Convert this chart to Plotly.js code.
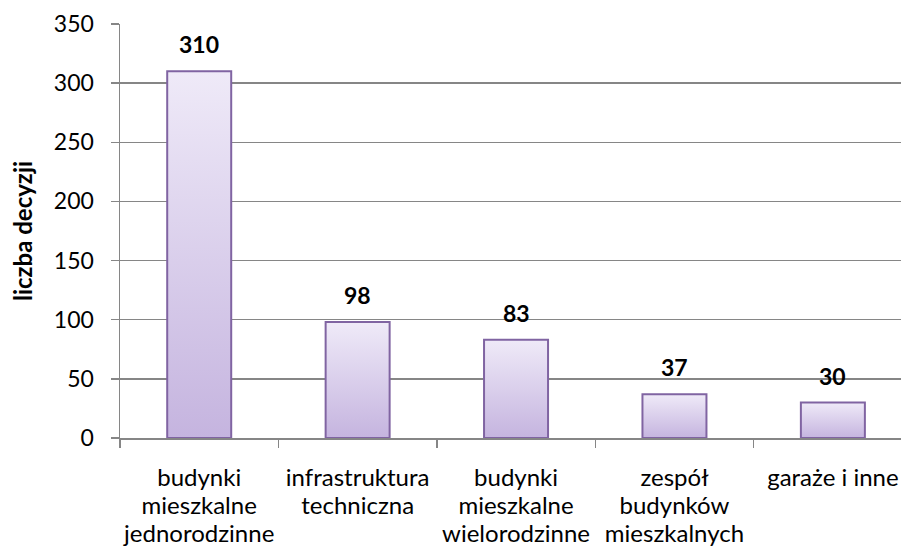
<!DOCTYPE html>
<html><head><meta charset="utf-8">
<script src="https://cdn.plot.ly/plotly-3.0.1.min.js"></script>
<style>body{margin:0;background:#fff}#chart{width:901px;height:548px}</style>
</head><body><div id="chart"></div>
<script>
const categories = ["budynki<br>mieszkalne<br>jednorodzinne","infrastruktura<br>techniczna","budynki<br>mieszkalne<br>wielorodzinne","zespół<br>budynków<br>mieszkalnych","garaże i inne"];
const values = [310, 98, 83, 37, 30];
const yTitle = "liczba decyzji";
const FONT = "Lato, 'Open Sans', sans-serif";

const trace = {
  type: "bar", x: categories, y: values, width: 0.404,
  marker: {color: "#dcd0ee", line: {color: "#8064a2", width: 2}},
  hoverinfo: "none"
};
const annotations = categories.map((c, i) => ({
  x: c, y: values[i], text: "<b>" + values[i] + "</b>", showarrow: false,
  yanchor: "bottom", yshift: 11, font: {family: FONT, size: 23, color: "#000"}
}));
const layout = {
  width: 901, height: 548,
  margin: {l: 120, r: 0, t: 24, b: 110},
  paper_bgcolor: "#fff", plot_bgcolor: "#fff",
  font: {family: FONT, size: 23, color: "#000"},
  showlegend: false,
  xaxis: {type: "category", range: [-0.5, 4.43], tickson: "boundaries", ticks: "outside", ticklen: 8, tickcolor: "#868686", tickwidth: 1.5,
          showline: true, linecolor: "#868686", linewidth: 1.5, showgrid: false, ticklabelstandoff: 18, tickangle: 0,
          tickfont: {family: FONT, size: 24}, fixedrange: true},
  yaxis: {range: [0, 350], dtick: 50, ticks: "outside", ticklen: 8, tickcolor: "#868686", tickwidth: 1.5,
          showline: true, linecolor: "#868686", linewidth: 1.5, gridcolor: "#868686", gridwidth: 1.5, zeroline: false,
          ticklabelstandoff: 12, tickfont: {family: FONT, size: 23},
          title: {text: "<b>" + yTitle + "</b>", font: {family: FONT, size: 24}, standoff: 14}},
  annotations: annotations
};
Plotly.newPlot("chart", [trace], layout, {displayModeBar: false, staticPlot: true}).then(gd => {
  const svg = gd.querySelector("svg.main-svg");
  const ns = "http://www.w3.org/2000/svg";
  let defs = svg.querySelector("defs");
  const g = document.createElementNS(ns, "linearGradient");
  g.setAttribute("id", "barGrad"); g.setAttribute("x1", "0"); g.setAttribute("y1", "0"); g.setAttribute("x2", "0"); g.setAttribute("y2", "1");
  [["0", "#efeaf8"], ["1", "#c5b4df"]].forEach(([o, c]) => {
    const s = document.createElementNS(ns, "stop"); s.setAttribute("offset", o); s.setAttribute("stop-color", c); g.appendChild(s);
  });
  defs.appendChild(g);
  gd.querySelectorAll(".bars .point path").forEach(p => { p.style.fill = "url(#barGrad)"; p.style.fillOpacity = 1; });
  gd.querySelectorAll(".xtick text tspan.line").forEach(t => {
    const dy = t.getAttribute("dy");
    if (dy && parseFloat(dy) > 0) t.setAttribute("dy", (parseFloat(dy) / 1.3 * 1.17) + "em");
  });
});
</script></body></html>
